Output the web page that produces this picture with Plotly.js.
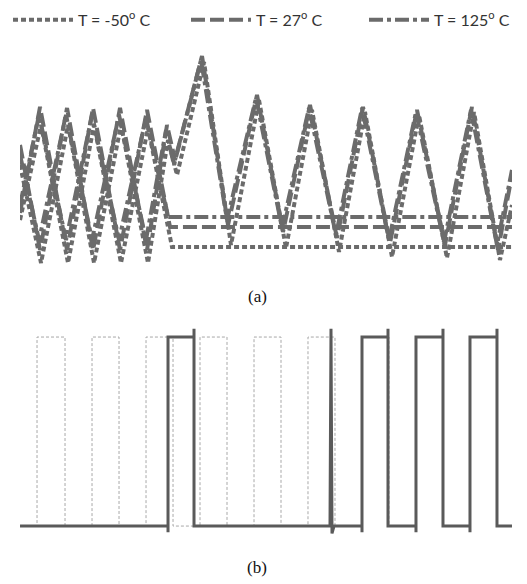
<!DOCTYPE html>
<html>
<head>
<meta charset="utf-8">
<script src="https://cdn.plot.ly/plotly-3.0.1.min.js"></script>
<style>html,body{margin:0;padding:0;background:#fff;}#chart{width:527px;height:584px;}</style>
</head>
<body>
<div id="chart"></div>
<script>
// ---- Panel (a): oscillator voltages, time in ns, voltage in V ----
const tempLabels = ["T = -50<sup>o</sup> C", "T = 27<sup>o</sup> C", "T = 125<sup>o</sup> C"];

// T = -50 C
const tM50_A = [0, 2.1, 4.8, 7.4, 10.1, 12.8, 15.2, 49.2];
const vM50_A = [0.50, 1.45, 0.07, 1.45, 0.07, 1.42, 0.23, 0.23];
const tM50_B = [0, 2.1, 4.8, 7.4, 10.1, 12.8, 14.8, 15.7, 18.4, 21.1, 23.9, 26.6, 29.2, 31.9, 34.5, 37.2, 39.9, 42.7, 45.4, 48.0, 49.2];
const vM50_B = [1.05, 0.07, 1.45, 0.07, 1.45, 0.07, 1.30, 0.95, 2.08, 0.25, 1.70, 0.22, 1.60, 0.18, 1.58, 0.13, 1.55, 0.12, 1.58, 0.10, 0.65];

// T = 27 C
const t27_A = [0, 2.0, 4.7, 7.3, 10.0, 12.7, 15.0, 49.2];
const v27_A = [0.57, 1.63, 0.20, 1.62, 0.20, 1.60, 0.43, 0.43];
const t27_B = [0, 2.0, 4.7, 7.3, 10.0, 12.7, 14.7, 15.5, 18.2, 20.8, 23.7, 26.3, 29.0, 31.7, 34.3, 37.0, 39.7, 42.5, 45.2, 47.8, 49.2];
const v27_B = [1.25, 0.20, 1.62, 0.20, 1.62, 0.20, 1.45, 1.10, 2.14, 0.45, 1.75, 0.38, 1.65, 0.32, 1.63, 0.27, 1.60, 0.25, 1.63, 0.20, 0.95];

// T = 125 C
const t125_A = [0, 1.9, 4.6, 7.2, 9.9, 12.6, 14.8, 49.2];
const v125_A = [0.65, 1.55, 0.30, 1.55, 0.30, 1.52, 0.53, 0.53];
const t125_B = [0, 1.9, 4.6, 7.2, 9.9, 12.6, 14.6, 15.4, 18.1, 20.7, 23.6, 26.2, 28.9, 31.6, 34.2, 36.9, 39.6, 42.4, 45.1, 47.7, 49.2];
const v125_B = [1.15, 0.30, 1.55, 0.30, 1.55, 0.30, 1.40, 1.05, 2.10, 0.50, 1.72, 0.42, 1.62, 0.35, 1.62, 0.30, 1.58, 0.28, 1.60, 0.25, 1.00];

// ---- Panel (b): digital outputs ----
const clkRise = [1.7, 7.2, 12.6, 18.0, 23.4, 28.8, 34.2, 39.6, 45.0];
const clkFall = [4.5, 9.9, 15.3, 20.7, 26.1, 31.5, 36.9, 42.3, 47.7];
const clkHigh = 1.8;
const tEnd = 49.2;

const outT = [0, 14.8, 14.8, 14.8, 17.4, 17.4, 17.4, 31.0, 31.1, 31.2, 31.4, 34.2, 34.2, 34.2, 36.8, 36.8, 36.8, 39.6, 39.6, 39.6, 42.3, 42.3, 42.3, 45.0, 45.0, 45.0, 47.7, 47.7, 47.7, 49.2];
const outV = [0, 0, -0.06, 1.8, 1.8, 1.88, 0, 0, 1.88, -0.07, 0, 0, -0.06, 1.8, 1.8, 1.88, 0, 0, -0.06, 1.8, 1.8, 1.88, 0, 0, -0.06, 1.8, 1.8, 1.88, 0, 0];

// build clock step path from edges
const clkT = [0], clkV = [0];
for (let i = 0; i < clkRise.length; i++) {
  clkT.push(clkRise[i], clkRise[i], clkFall[i], clkFall[i]);
  clkV.push(0, clkHigh, clkHigh, 0);
}
clkT.push(tEnd); clkV.push(0);

const grey = "#6b6b6b";
const dashes = ["5px,3px", "14px,5px", "14px,4px,4px,4px"];
const legendIds = ["legend", "legend2", "legend3"];
const sets = [[tM50_A, vM50_A, tM50_B, vM50_B], [t27_A, v27_A, t27_B, v27_B], [t125_A, v125_A, t125_B, v125_B]];

const traces = [];
sets.forEach((s, i) => {
  traces.push({x: s[0], y: s[1], mode: "lines", name: tempLabels[i], legend: legendIds[i], showlegend: true,
    line: {color: grey, width: 4, dash: dashes[i]}, xaxis: "x", yaxis: "y"});
  traces.push({x: s[2], y: s[3], mode: "lines", name: tempLabels[i], legend: legendIds[i], showlegend: false,
    line: {color: grey, width: 4, dash: dashes[i]}, xaxis: "x", yaxis: "y"});
});
traces.push({x: clkT, y: clkV, mode: "lines", showlegend: false, line: {color: "#a8a8a8", width: 1, dash: "3px,2px"}, xaxis: "x2", yaxis: "y2"});
traces.push({x: outT, y: outV, mode: "lines", showlegend: false, line: {color: "#5a5a5a", width: 3}, xaxis: "x2", yaxis: "y2"});

const hidden = {visible: false, showgrid: false, zeroline: false, fixedrange: true};
const legFont = {family: "Lato, Carlito, Calibri, sans-serif", size: 16, color: "#333"};
function leg(xpx) {
  return {orientation: "h", x: xpx / 527, y: 0.995, xanchor: "left", yanchor: "top",
    font: legFont, itemwidth: 60, itemclick: false, bgcolor: "rgba(0,0,0,0)"};
}
const layout = {
  width: 527, height: 584,
  margin: {l: 0, r: 0, t: 0, b: 0},
  paper_bgcolor: "#fff", plot_bgcolor: "#fff",
  showlegend: true,
  legend: leg(8), legend2: leg(186), legend3: leg(364),
  xaxis: Object.assign({domain: [0.038, 0.9715], range: [0, 49.2], anchor: "y"}, hidden),
  yaxis: Object.assign({domain: [0.5377, 0.9144], range: [0, 2.2], anchor: "x"}, hidden),
  xaxis2: Object.assign({domain: [0.038, 0.9715], range: [0, 49.2], anchor: "y2"}, hidden),
  yaxis2: Object.assign({domain: [0.0753, 0.452], range: [-0.133, 1.962], anchor: "x2"}, hidden),
  annotations: [
    {text: "(a)", xref: "paper", yref: "paper", x: 0.4877, y: 0.493, showarrow: false, xanchor: "center", yanchor: "middle",
      font: {family: "Liberation Serif, Times New Roman, serif", size: 17, color: "#111"}},
    {text: "(b)", xref: "paper", yref: "paper", x: 0.4877, y: 0.0274, showarrow: false, xanchor: "center", yanchor: "middle",
      font: {family: "Liberation Serif, Times New Roman, serif", size: 17, color: "#111"}}
  ]
};
Plotly.newPlot("chart", traces, layout, {displayModeBar: false, staticPlot: true});
</script>
</body>
</html>
